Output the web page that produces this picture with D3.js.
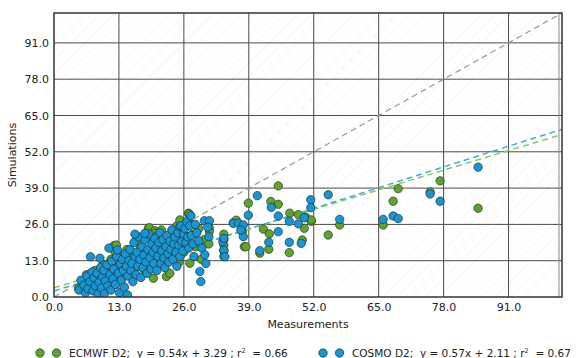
<!DOCTYPE html>
<html>
<head>
<meta charset="utf-8">
<script src="https://cdnjs.cloudflare.com/ajax/libs/d3/7.8.5/d3.min.js"></script>
<style>
  body { margin: 0; background: #fff; }
  svg { display: block; font-family: "DejaVu Sans", sans-serif; }
  text { fill: #222; }
</style>
</head>
<body>
<svg id="chart"></svg>
<script>
// tick values on both axes
var ticks = [0, 13, 26, 39, 52, 65, 78, 91];
var axisMax = 101.7;

// regression fits [slope, intercept, r2]
var ecmwfFit = [0.54, 3.29, 0.66];
var cosmoFit = [0.57, 2.11, 0.67];

// ECMWF D2 points [measured, simulated]
var ecmwf = [
  [4.9,3.1],[5.8,5.0],[6.5,8.0],[7.0,4.0],[7.5,6.5],[8.2,9.5],[8.6,3.5],[9.0,7.5],[9.8,11.5],[10.2,6.0],
  [10.8,9.0],[11.4,13.5],[12.0,18.4],[12.2,16.2],[12.5,18.6],[12.8,11.0],[13.2,7.5],[13.6,14.5],[14.0,10.0],
  [14.6,17.0],[15.0,12.5],[15.5,8.5],[16.0,15.0],[16.5,20.0],[16.9,11.0],[17.3,17.5],[17.8,13.5],[18.2,9.5],
  [18.5,21.0],[18.9,24.6],[19.1,24.8],[19.3,15.5],[19.9,6.7],[20.2,23.7],[20.2,22.8],[20.4,21.6],[20.8,18.5],
  [21.3,12.5],[21.5,24.0],[22.0,16.5],[22.5,7.3],[22.8,20.5],[23.2,8.5],[23.5,14.0],[23.8,22.5],[24.2,18.0],
  [24.6,25.5],[25.0,12.5],[25.2,27.6],[25.6,21.0],[26.0,16.0],[26.4,19.0],[26.9,30.0],[27.1,29.7],[27.2,12.1],
  [27.5,26.0],[27.8,22.5],[28.4,18.0],[29.0,24.5],[29.5,13.5],[30.0,20.5],[31.1,24.6],[31.1,23.5],[31.0,19.0],
  [34.0,22.5],[34.0,20.5],[34.0,18.5],[34.0,16.5],[34.0,14.5],[35.9,26.6],[36.5,27.5],[38.1,18.0],[37.7,23.4],
  [38.4,18.0],[38.9,33.6],[41.2,15.7],[41.9,24.3],[43.1,22.6],[43.0,17.1],[43.4,34.2],[44.9,33.2],[44.9,39.8],
  [47.1,15.9],[47.2,30.0],[48.9,29.5],[49.7,20.4],[50.4,28.6],[50.1,24.6],[51.5,27.1],[51.5,27.6],[54.9,22.2],
  [57.2,25.8],[65.9,25.8],[67.9,34.3],[68.9,38.8],[75.3,37.6],[77.3,41.6],[84.9,31.8]
];

// COSMO D2 points [measured, simulated]
var cosmo = [
  [5.0,2.5],[5.4,6.0],[6.0,4.2],[6.3,1.5],[6.6,7.5],[6.8,3.0],[7.2,5.5],[7.3,14.4],[7.6,9.0],[7.8,2.2],
  [8.0,6.8],[8.3,4.0],[8.6,8.5],[8.8,1.0],[9.0,5.2],[9.2,13.9],[9.3,10.5],[9.5,3.2],[9.7,7.2],[10.0,9.5],
  [10.1,1.2],[10.3,5.8],[10.6,11.5],[10.8,4.0],[11.0,17.5],[11.2,8.0],[11.4,2.5],[11.6,12.8],[11.8,6.5],
  [12.0,10.0],[12.3,4.5],[12.5,14.5],[12.7,16.8],[12.9,8.5],[13.1,1.5],[13.3,11.8],[13.5,6.0],[13.7,13.5],
  [13.9,9.5],[14.1,3.5],[14.3,15.5],[14.5,11.0],[14.7,0.7],[14.8,7.5],[15.0,13.0],[15.2,17.0],[15.4,9.5],
  [15.6,12.0],[15.8,5.5],[16.0,19.5],[16.2,14.5],[16.4,8.0],[16.6,16.0],[16.8,11.0],[17.0,21.5],[17.2,13.5],
  [17.4,7.0],[17.6,18.0],[17.8,10.5],[18.0,15.0],[18.2,20.5],[18.4,12.5],[18.6,8.5],[18.8,17.0],[19.0,22.5],
  [19.2,14.0],[19.4,10.0],[19.6,19.0],[19.8,16.0],[20.0,12.0],[20.2,21.0],[20.4,17.5],[20.6,9.5],[20.8,14.5],
  [21.0,19.5],[21.2,23.0],[21.4,12.0],[21.6,16.5],[21.8,20.5],[22.0,14.0],[22.2,10.5],[22.4,18.0],[22.6,22.0],
  [22.8,15.5],[23.0,12.5],[23.2,20.0],[23.4,17.0],[23.6,24.0],[23.8,13.5],[24.0,19.0],[24.2,21.5],[24.4,16.0],
  [24.6,11.0],[24.8,23.0],[25.0,18.5],[25.2,14.5],[25.2,25.2],[25.4,25.5],[25.6,20.0],[25.8,16.5],[26.0,22.5],
  [26.2,24.5],[26.4,19.5],[26.6,27.0],[26.8,21.5],[27.0,17.5],[27.2,25.5],[27.4,29.1],[27.5,22.0],[27.8,19.0],
  [28.0,14.5],[28.3,26.0],[28.6,23.0],[29.0,20.0],[29.2,9.1],[29.4,5.5],[29.6,17.5],[30.1,27.3],[30.2,15.1],
  [30.4,12.0],[31.1,27.3],[31.0,21.6],[30.8,25.0],[16.2,22.5],[18.2,22.8],[33.8,19.8],[34.0,16.8],[34.2,14.4],
  [34.0,21.0],[35.9,26.4],[36.9,26.4],[37.9,25.8],[37.9,21.6],[37.4,24.0],[38.9,29.3],[40.7,36.3],
  [41.2,16.6],[43.0,19.6],[43.5,32.1],[44.9,29.0],[44.9,23.4],[47.1,27.1],[47.1,19.6],[48.9,26.2],[49.5,19.2],
  [50.1,28.4],[51.4,34.8],[51.4,32.0],[54.9,36.6],[57.2,27.8],[65.9,27.8],[67.9,29.0],[68.9,28.1],[75.3,36.9],
  [77.3,34.3],[84.9,46.5]
];

var width = 581,
    height = 358,
    margin = {top: 13, right: 19, bottom: 61, left: 54};

var green = '#5ea32e', blue = '#1896d2';
var greenLine = '#86c954', blueLine = '#3ab3dc';

var svg = d3.select('#chart')
    .attr('width', width)
    .attr('height', height);

var x = d3.scaleLinear()
    .domain([0, axisMax])
    .range([margin.left, width - margin.right]);

var y = d3.scaleLinear()
    .domain([0, axisMax])
    .range([height - margin.bottom, margin.top]);

var plotW = x.range()[1] - x.range()[0],
    plotH = y.range()[0] - y.range()[1];

// faint diagonal hatching of the axes background
var defs = svg.append('defs');
defs.append('pattern')
    .attr('id', 'hatch')
    .attr('patternUnits', 'userSpaceOnUse')
    .attr('width', 10).attr('height', 10)
    .attr('patternTransform', 'rotate(45)')
  .append('line')
    .attr('x1', 0).attr('y1', 0).attr('x2', 0).attr('y2', 10)
    .attr('stroke', '#eeeeee').attr('stroke-width', 1);

defs.append('clipPath').attr('id', 'clip')
  .append('rect')
    .attr('x', x.range()[0]).attr('y', y.range()[1])
    .attr('width', plotW).attr('height', plotH);

svg.append('rect')
    .attr('x', x.range()[0]).attr('y', y.range()[1])
    .attr('width', plotW).attr('height', plotH)
    .attr('fill', 'url(#hatch)');

// grid
var grid = svg.append('g');
grid.selectAll('.gx').data(ticks.slice(1)).enter().append('line')
    .attr('x1', x).attr('x2', x)
    .attr('y1', y.range()[0]).attr('y2', y.range()[1])
    .attr('stroke', '#4a4a4a').attr('stroke-width', 1);
grid.selectAll('.gy').data(ticks.slice(1)).enter().append('line')
    .attr('y1', y).attr('y2', y)
    .attr('x1', x.range()[0]).attr('x2', x.range()[1])
    .attr('stroke', '#4a4a4a').attr('stroke-width', 1);
// thin inner line along the right edge
grid.append('line')
    .attr('x1', x.range()[1] - 3).attr('x2', x.range()[1] - 3)
    .attr('y1', y.range()[0]).attr('y2', y.range()[1])
    .attr('stroke', '#888').attr('stroke-width', 1);

// axes
var fmt = d3.format('.1f');
var xAxis = svg.append('g')
    .attr('transform', 'translate(0,' + y.range()[0] + ')')
    .call(d3.axisBottom(x).tickValues(ticks).tickFormat(fmt).tickSize(0).tickPadding(6));
var yAxis = svg.append('g')
    .attr('transform', 'translate(' + x.range()[0] + ',0)')
    .call(d3.axisLeft(y).tickValues(ticks).tickFormat(fmt).tickSize(0).tickPadding(5));
[xAxis, yAxis].forEach(function(a) {
    a.select('.domain').remove();
    a.selectAll('text').attr('font-size', 11).attr('fill', '#222')
        .attr('font-family', '"DejaVu Sans", sans-serif');
});

// fit lines and 1:1 line
var lines = svg.append('g').attr('clip-path', 'url(#clip)');
function fitLine(fit) {
    return [[0, fit[1]], [axisMax, fit[0] * axisMax + fit[1]]];
}
var lineGen = d3.line().x(function(d) { return x(d[0]); }).y(function(d) { return y(d[1]); });

lines.append('path')
    .attr('d', lineGen([[0, 0], [axisMax, axisMax]]))
    .attr('stroke', '#999').attr('stroke-width', 1.2)
    .attr('stroke-dasharray', '6,4').attr('fill', 'none');

// scatter
var dots = svg.append('g').attr('clip-path', 'url(#clip)');
dots.selectAll('.e').data(ecmwf).enter().append('circle')
    .attr('cx', function(d) { return x(d[0]); })
    .attr('cy', function(d) { return y(d[1]); })
    .attr('r', 4.2)
    .attr('fill', green).attr('stroke', '#2b3a1f').attr('stroke-width', 0.7);
dots.selectAll('.c').data(cosmo).enter().append('circle')
    .attr('cx', function(d) { return x(d[0]); })
    .attr('cy', function(d) { return y(d[1]); })
    .attr('r', 4.2)
    .attr('fill', blue).attr('stroke', '#1b3040').attr('stroke-width', 0.7);

lines.append('path')
    .attr('d', lineGen(fitLine(ecmwfFit)))
    .attr('stroke', greenLine).attr('stroke-width', 1.5)
    .attr('stroke-dasharray', '6,4').attr('fill', 'none');
lines.append('path')
    .attr('d', lineGen(fitLine(cosmoFit)))
    .attr('stroke', blueLine).attr('stroke-width', 1.5)
    .attr('stroke-dasharray', '6,4').attr('fill', 'none');

// frame
svg.append('rect')
    .attr('x', x.range()[0]).attr('y', y.range()[1])
    .attr('width', plotW).attr('height', plotH)
    .attr('fill', 'none').attr('stroke', '#333').attr('stroke-width', 1.5);

// axis labels
svg.append('text')
    .attr('x', (x.range()[0] + x.range()[1]) / 2)
    .attr('y', 328)
    .attr('text-anchor', 'middle')
    .attr('font-size', 11)
    .text('Measurements');
svg.append('text')
    .attr('transform', 'translate(16,' + (y.range()[0] + y.range()[1]) / 2 + ') rotate(-90)')
    .attr('text-anchor', 'middle')
    .attr('font-size', 11)
    .text('Simulations');

// legend
var legend = [
    {name: 'ECMWF D2', fit: ecmwfFit, color: green, edge: '#2b3a1f', x: 40},
    {name: 'COSMO D2', fit: cosmoFit, color: blue, edge: '#1b3040', x: 323}
];
var lg = svg.selectAll('.legend').data(legend).enter().append('g')
    .attr('transform', function(d) { return 'translate(' + d.x + ',353)'; });
lg.selectAll('circle').data(function(d) { return [d, d]; }).enter().append('circle')
    .attr('cx', function(d, i) { return i * 16.5; })
    .attr('cy', 0)
    .attr('r', 4.2)
    .attr('fill', function(d) { return d.color; })
    .attr('stroke', function(d) { return d.edge; })
    .attr('stroke-width', 0.7);
var lt = lg.append('text')
    .attr('x', 29)
    .attr('y', 4)
    .attr('font-size', 10.5)
    .style('white-space', 'pre');
lt.append('tspan').text(function(d) {
    return d.name + ';  y = ' + d.fit[0].toFixed(2) + 'x + ' + d.fit[1].toFixed(2) + ' ; r';
});
lt.append('tspan').attr('dy', -4).attr('font-size', 6.5).text('2');
lt.append('tspan').attr('dy', 4).text(function(d) { return '  = ' + d.fit[2].toFixed(2); });
</script>
</body>
</html>
